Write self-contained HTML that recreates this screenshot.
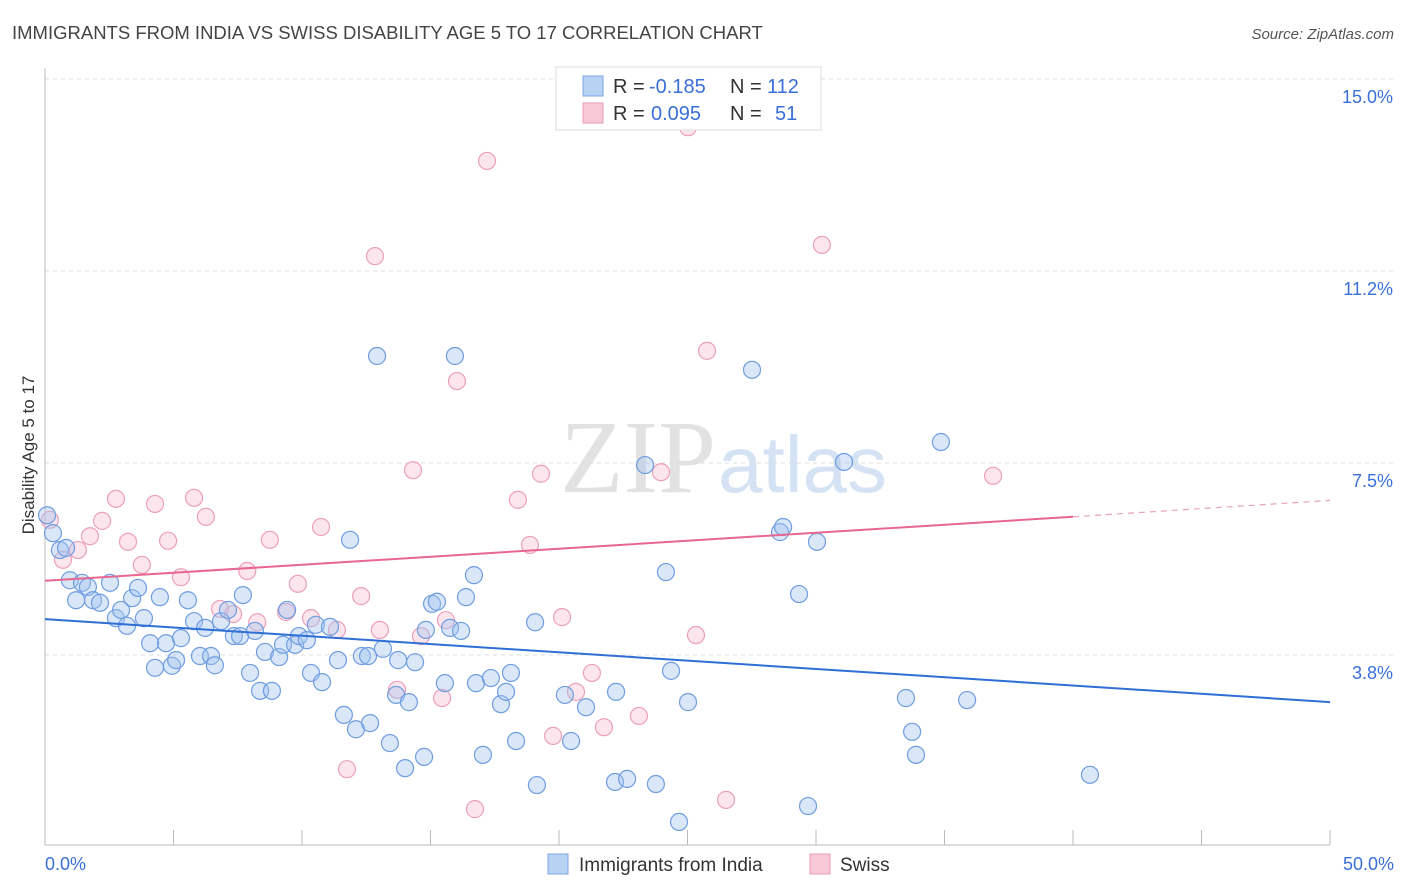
<!DOCTYPE html>
<html><head><meta charset="utf-8"><style>
body{margin:0;background:#fff;font-family:"Liberation Sans",sans-serif}
svg{display:block}
</style></head><body>
<svg id="c" width="1406" height="892">
<text x="12" y="39" font-size="18.5" fill="#444">IMMIGRANTS FROM INDIA VS SWISS DISABILITY AGE 5 TO 17 CORRELATION CHART</text>
<text x="1394" y="39" font-size="15" fill="#555" font-style="italic" text-anchor="end">Source: ZipAtlas.com</text>
<text x="716" y="492" font-size="104" fill="#e2e2e2" text-anchor="end" font-family="Liberation Serif">ZIP</text>
<text x="718" y="492" font-size="80" fill="#d4e2f4">atlas</text>
<g id="grid"></g><g id="marks"></g><g id="trend"></g>
<text x="34" y="455" font-size="17" fill="#333" transform="rotate(-90 34 455)" text-anchor="middle">Disability Age 5 to 17</text>
<g>
<rect x="556" y="67" width="265" height="63" fill="#fff" stroke="#ddd"/>
<rect x="583" y="76" width="20" height="20" fill="#b8d2f4" stroke="#7aa5e0"/>
<rect x="583" y="103" width="20" height="20" fill="#f9c8d6" stroke="#eb9ab5"/>
<text x="613" y="93" font-size="20" fill="#333">R =</text>
<text x="649" y="93" font-size="20" fill="#3a6fd8">-0.185</text>
<text x="730" y="93" font-size="20" fill="#333">N =</text>
<text x="767" y="93" font-size="20" fill="#3a6fd8">112</text>
<text x="613" y="120" font-size="20" fill="#333">R =</text>
<text x="651" y="120" font-size="20" fill="#3a6fd8">0.095</text>
<text x="730" y="120" font-size="20" fill="#333">N =</text>
<text x="775" y="120" font-size="20" fill="#3a6fd8">51</text>
</g>
<g>
<rect x="548" y="854" width="20" height="20" fill="#b8d2f4" stroke="#7aa5e0"/>
<text x="579" y="871" font-size="19" fill="#333">Immigrants from India</text>
<rect x="810" y="854" width="20" height="20" fill="#f9c8d6" stroke="#eb9ab5"/>
<text x="840" y="871" font-size="19" fill="#333">Swiss</text>
</g>
</svg>
<script>
const blueX=[0.08,0.31,0.58,0.82,0.97,1.21,1.44,1.67,1.87,2.14,2.53,2.76,2.96,3.19,3.39,3.62,3.85,4.09,4.28,4.47,4.71,4.94,5.10,5.29,5.56,5.80,6.03,6.23,6.46,6.61,6.85,7.12,7.35,7.59,7.70,7.98,8.17,8.37,8.56,8.83,9.11,9.26,9.42,9.73,9.88,10.19,10.35,10.54,10.78,11.09,11.40,11.63,11.87,12.10,12.33,12.57,12.65,12.92,13.15,13.42,13.66,13.74,14.01,14.16,14.40,14.75,14.82,15.06,15.25,15.56,15.76,15.95,16.19,16.38,16.69,16.77,17.04,17.35,17.74,17.94,18.13,18.33,19.07,19.14,20.23,20.47,21.05,22.18,22.22,22.65,23.35,23.77,24.16,24.36,24.67,25.02,27.51,28.60,28.72,29.34,29.69,30.04,31.09,33.50,33.74,33.89,34.86,35.88,40.66];
const blueY=[6.48,6.13,5.80,5.84,5.21,4.82,5.16,5.08,4.82,4.77,5.16,4.47,4.63,4.32,4.86,5.06,4.47,3.98,3.50,4.88,3.98,3.54,3.65,4.08,4.82,4.41,3.73,4.28,3.73,3.55,4.41,4.63,4.12,4.12,4.92,3.40,4.22,3.05,3.81,3.05,3.71,3.95,4.63,3.95,4.12,4.04,3.40,4.34,3.22,4.30,3.65,2.58,6.00,2.30,3.73,3.73,2.42,9.59,3.87,2.03,2.97,3.65,1.54,2.83,3.61,1.76,4.24,4.75,4.79,3.20,4.28,9.59,4.22,4.88,5.31,3.20,1.80,3.30,2.79,3.03,3.40,2.07,4.39,1.21,2.97,2.07,2.73,1.27,3.03,1.33,7.46,1.23,5.37,3.44,0.49,2.83,9.32,6.15,6.25,4.94,0.80,5.96,7.52,2.91,2.25,1.80,7.91,2.87,1.41];
const pinkX=[0.19,0.70,1.28,1.75,2.22,2.76,3.23,3.77,4.28,4.79,5.29,5.80,6.26,6.81,7.32,7.87,8.26,8.75,9.38,9.84,10.35,10.74,11.36,11.75,12.30,12.84,13.03,13.70,14.32,14.63,15.45,15.60,16.03,16.73,17.20,18.40,18.87,19.30,19.77,20.12,20.66,21.28,21.75,23.11,23.97,25.02,25.33,25.76,26.50,30.23,36.89];
const pinkY=[6.39,5.61,5.80,6.07,6.37,6.80,5.96,5.51,6.70,5.98,5.27,6.82,6.45,4.65,4.55,5.39,4.39,6.00,4.59,5.14,4.47,6.25,4.24,1.52,4.90,11.54,4.24,3.07,7.36,4.12,2.91,4.43,9.10,0.74,13.40,6.78,5.90,7.29,2.17,4.49,3.03,3.40,2.34,2.56,7.32,14.06,4.14,9.69,0.92,11.76,7.25];
const blueTrend=[4.45,2.83];      // y at x=0 and x=50
const pinkTrend=[5.20,6.45,6.77]; // y at x=0, x=40 (solid end), x=50
const xTicks=[0,5,10,15,20,25,30,35,40,45,50];
const yTicks=[3.75,7.5,11.25,15];
const yTickLabels=["3.8%","7.5%","11.2%","15.0%"];
const NS="http://www.w3.org/2000/svg";
const sx=v=>45+v*25.7, sy=v=>847-v*51.2;
function mk(t,a,p){const e=document.createElementNS(NS,t);for(const k in a)e.setAttribute(k,a[k]);p.appendChild(e);return e;}
const grid=document.getElementById('grid');
yTicks.forEach((t,i)=>{
 const l=mk('line',{x1:45,x2:1394,y1:sy(t),y2:sy(t),stroke:'#ddd','stroke-dasharray':'4,4'},grid);
 
 
 const tx=mk('text',{x:1393,y:sy(t)+24,'font-size':18,fill:'#3a6fd8','text-anchor':'end'},grid);
 tx.textContent=yTickLabels[i];
 
 
});
const ax=mk('line',{x1:45,x2:45,y1:68,y2:845,stroke:'#bbb'},grid);


const bx=mk('line',{x1:45,x2:1330,y1:845,y2:845,stroke:'#bbb'},grid);


xTicks.forEach(t=>{
 const l=mk('line',{x1:sx(t),x2:sx(t),y1:830,y2:845,stroke:'#bbb'},grid);
 
 
});
const xl0=mk('text',{x:45,y:870,'font-size':18,fill:'#3a6fd8'},grid);xl0.textContent='0.0%';


const xl1=mk('text',{x:1394,y:870,'font-size':18,fill:'#3a6fd8','text-anchor':'end'},grid);xl1.textContent='50.0%';


const marks=document.getElementById('marks');
pinkX.forEach((x,i)=>{
 const c=mk('circle',{cx:sx(x),cy:sy(pinkY[i]),r:8.5,fill:'rgba(246,180,202,0.35)',stroke:'#eba0ba','stroke-width':1.2},marks);
 
 
});
blueX.forEach((x,i)=>{
 const c=mk('circle',{cx:sx(x),cy:sy(blueY[i]),r:8.5,fill:'rgba(160,196,240,0.4)',stroke:'#6f9ddf','stroke-width':1.2},marks);
 
 
});
const tr=document.getElementById('trend');
const b=mk('line',{x1:sx(0),y1:sy(blueTrend[0]),x2:sx(50),y2:sy(blueTrend[1]),stroke:'#2f6fd6','stroke-width':2},tr);


const p=mk('line',{x1:sx(0),y1:sy(pinkTrend[0]),x2:sx(40),y2:sy(pinkTrend[1]),stroke:'#e8678f','stroke-width':2},tr);


const pd=mk('line',{x1:sx(40),y1:sy(pinkTrend[1]),x2:sx(50),y2:sy(pinkTrend[2]),stroke:'#e8a0b8','stroke-width':1.2,'stroke-dasharray':'6,5'},tr);


</script>
</body></html>
